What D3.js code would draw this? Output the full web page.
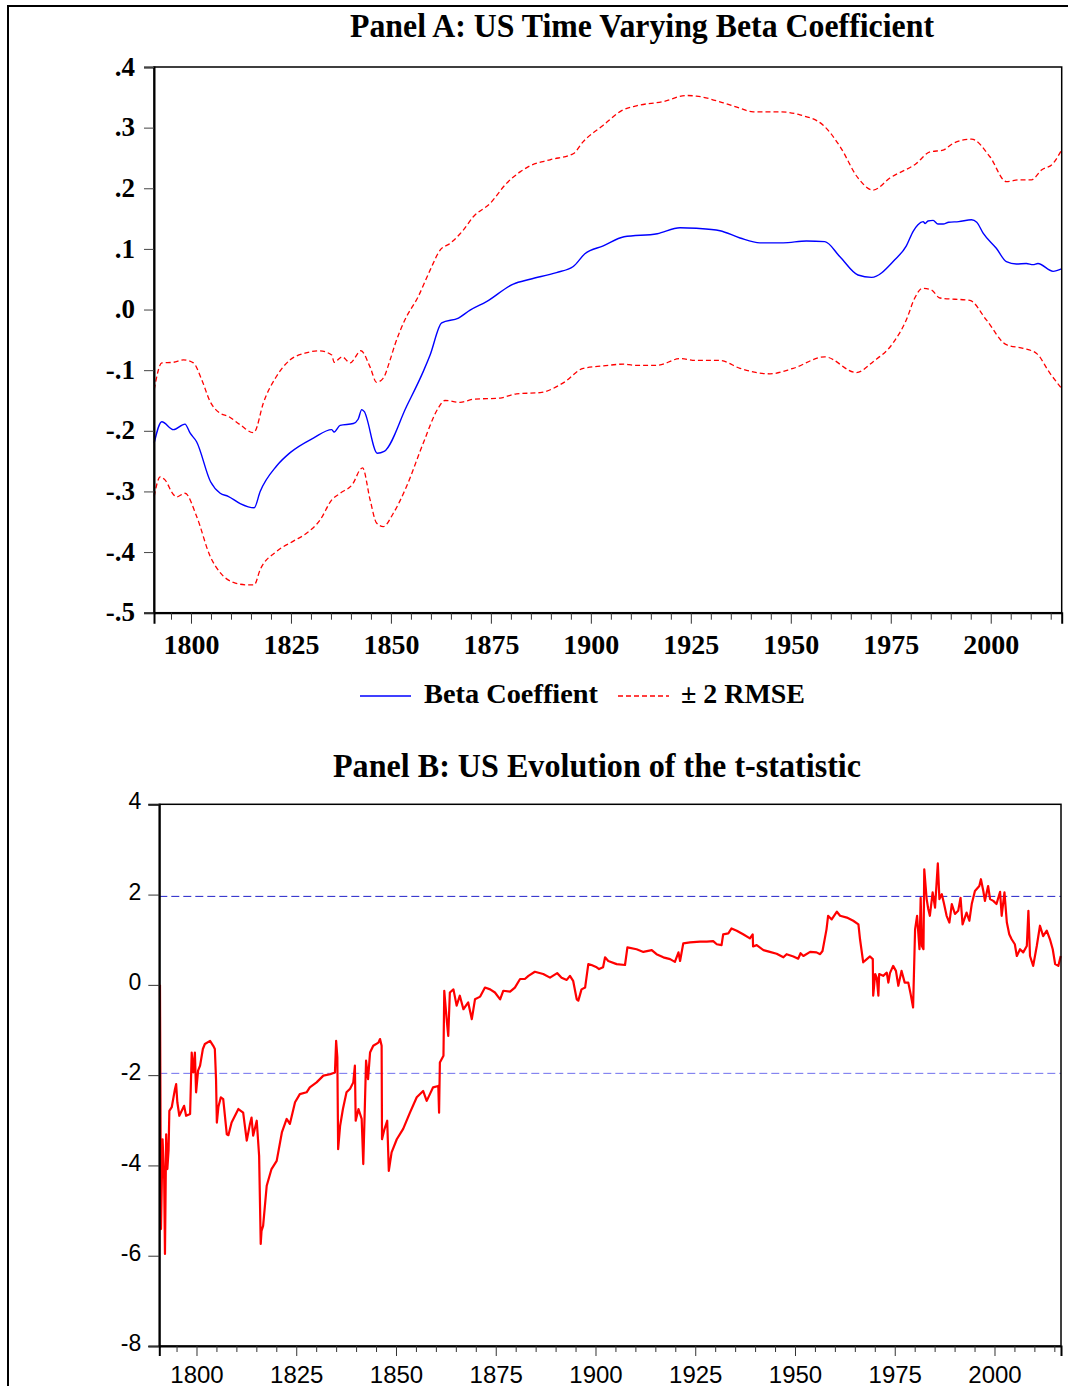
<!DOCTYPE html>
<html><head><meta charset="utf-8">
<script src="https://cdn.jsdelivr.net/npm/d3@7"></script>
<style>body{margin:0;background:#fff}svg{display:block}</style>
</head><body>
<svg id="c" width="1068" height="1386"></svg>
<script>
// ---------- Panel A data ----------
const betaYears = [1790.8,1792.7,1795.6,1798.5,1799.8,1801.4,1804.9,1807.3,1809.3,1812.3,1815.8,1817.3,1821.4,1824.8,1830.6,1835.2,1835.8,1837.3,1840.6,1841.8,1842.7,1843.3,1846.6,1848.3,1853.9,1858.1,1859.8,1862.7,1866.9,1869.8,1873.9,1880.6,1884.8,1891.4,1895.6,1898.5,1903.1,1908.3,1916.6,1922.3,1926.4,1932.3,1937.3,1942.3,1948.1,1953.9,1958.5,1962.3,1966.8,1970.2,1976.0,1978.9,1980.6,1981.8,1983.1,1983.6,1984.3,1985.6,1986.8,1988.1,1989.5,1992.0,1995.2,1996.5,1998.1,2001.4,2003.9,2006.4,2008.9,2010.6,2011.8,2015.6,2017.7];
const betaValues = [-0.220,-0.185,-0.198,-0.189,-0.204,-0.218,-0.284,-0.303,-0.308,-0.320,-0.327,-0.300,-0.258,-0.236,-0.212,-0.198,-0.202,-0.191,-0.188,-0.181,-0.165,-0.168,-0.237,-0.234,-0.160,-0.102,-0.075,-0.022,-0.014,-0.001,0.013,0.042,0.050,0.061,0.071,0.092,0.105,0.120,0.125,0.135,0.134,0.130,0.118,0.110,0.110,0.113,0.112,0.087,0.057,0.053,0.082,0.105,0.129,0.140,0.145,0.142,0.146,0.147,0.141,0.141,0.144,0.145,0.148,0.144,0.126,0.101,0.079,0.075,0.076,0.074,0.076,0.063,0.067];

const upperYears = [1790.8,1792.7,1795.6,1798.1,1800.6,1802.7,1804.8,1807.3,1809.3,1812.3,1815.6,1816.0,1818.1,1821.4,1824.8,1828.5,1832.0,1835.2,1835.8,1837.8,1839.8,1842.5,1844.8,1846.4,1848.1,1849.8,1851.0,1853.5,1856.8,1859.8,1862.3,1864.8,1868.1,1870.6,1874.8,1878.9,1882.3,1884.8,1889.8,1895.6,1898.1,1903.1,1907.7,1911.4,1918.1,1923.9,1926.4,1933.1,1937.3,1940.6,1947.3,1952.3,1958.1,1962.3,1966.8,1970.6,1974.8,1981.4,1984.8,1988.1,1990.6,1995.2,1999.8,2003.9,2007.3,2010.2,2012.7,2015.6,2017.7];
const upperValues = [-0.132,-0.088,-0.087,-0.083,-0.088,-0.116,-0.152,-0.171,-0.176,-0.190,-0.203,-0.201,-0.154,-0.110,-0.083,-0.072,-0.068,-0.075,-0.087,-0.078,-0.088,-0.068,-0.095,-0.120,-0.113,-0.083,-0.058,-0.017,0.021,0.065,0.098,0.109,0.131,0.153,0.175,0.208,0.227,0.237,0.247,0.257,0.277,0.304,0.328,0.336,0.343,0.353,0.352,0.341,0.332,0.326,0.326,0.321,0.304,0.269,0.217,0.197,0.217,0.241,0.260,0.263,0.274,0.281,0.252,0.211,0.214,0.214,0.230,0.241,0.263];

const lowerYears = [1790.8,1792.3,1793.5,1795.6,1796.4,1798.5,1801.4,1804.8,1807.3,1810.6,1813.9,1815.8,1817.3,1821.4,1825.6,1828.9,1832.3,1835.2,1837.3,1840.6,1842.3,1842.9,1844.8,1846.4,1848.1,1850.6,1853.9,1858.1,1861.8,1863.5,1867.3,1870.6,1877.3,1881.4,1887.3,1893.1,1898.1,1903.1,1908.3,1910.8,1916.6,1922.3,1926.4,1932.3,1937.3,1944.8,1950.6,1958.5,1966.4,1970.6,1975.6,1978.9,1981.0,1982.9,1985.2,1987.3,1994.8,1998.9,2003.9,2008.1,2011.4,2014.8,2017.7];
const lowerValues = [-0.308,-0.276,-0.281,-0.305,-0.309,-0.303,-0.341,-0.407,-0.434,-0.450,-0.454,-0.454,-0.429,-0.399,-0.382,-0.369,-0.347,-0.314,-0.303,-0.286,-0.264,-0.261,-0.314,-0.352,-0.358,-0.336,-0.292,-0.220,-0.163,-0.150,-0.153,-0.148,-0.146,-0.139,-0.137,-0.121,-0.097,-0.093,-0.090,-0.092,-0.092,-0.081,-0.084,-0.084,-0.097,-0.106,-0.097,-0.078,-0.104,-0.086,-0.055,-0.017,0.019,0.035,0.032,0.019,0.015,-0.017,-0.058,-0.064,-0.072,-0.105,-0.130];

const yTicksA = [0.4,0.3,0.2,0.1,0.0,-0.1,-0.2,-0.3,-0.4,-0.5];
const yLabelsA = [".4",".3",".2",".1",".0","-.1","-.2","-.3","-.4","-.5"];
const xMajorYears = [1800,1825,1850,1875,1900,1925,1950,1975,2000];
const xMajorLabels = ["1800","1825","1850","1875","1900","1925","1950","1975","2000"];
const xMinorYears = [1795,1805,1810,1815,1820,1830,1835,1840,1845,1855,1860,1865,1870,1880,1885,1890,1895,1905,1910,1915,1920,1930,1935,1940,1945,1955,1960,1965,1970,1980,1985,1990,1995,2005,2010,2015];

// ---------- Panel B data ----------
const tYears = [1790.85,1791.1,1791.5,1791.9,1792.1,1792.4,1792.7,1793.0,1793.2,1793.8,1794.6,1794.9,1795.2,1795.7,1796.9,1797.4,1798.4,1798.8,1799.2,1799.6,1799.9,1800.4,1800.9,1801.6,1802.1,1803.4,1804.2,1804.6,1804.9,1805.1,1805.5,1806.1,1806.7,1807.6,1808.0,1808.8,1810.5,1811.7,1812.6,1813.4,1813.8,1814.2,1815.1,1815.7,1816.1,1816.3,1816.7,1817.6,1818.8,1820.1,1821.4,1822.6,1823.4,1824.7,1825.9,1827.6,1828.4,1830.1,1831.8,1833.5,1834.7,1835.0,1835.3,1835.5,1836.0,1836.7,1837.6,1838.5,1839.3,1839.7,1839.9,1840.6,1841.4,1841.8,1842.2,1842.5,1843.0,1843.5,1844.3,1845.6,1846.0,1846.4,1846.5,1847.1,1847.8,1848.2,1848.9,1850.2,1851.8,1853.5,1855.2,1856.8,1857.7,1858.5,1859.3,1860.6,1860.8,1861.0,1861.9,1862.1,1862.7,1863.1,1863.5,1864.4,1865.2,1866.0,1866.9,1868.1,1869.0,1869.8,1871.1,1872.3,1873.6,1874.8,1876.1,1876.9,1878.6,1879.8,1881.1,1882.3,1883.2,1884.8,1886.9,1888.6,1890.4,1891.5,1892.8,1893.6,1894.4,1895.3,1895.7,1896.5,1897.4,1898.2,1899.0,1900.3,1900.9,1901.9,1902.4,1903.2,1905.3,1907.4,1908.0,1910.3,1912.0,1914.1,1915.3,1917.0,1918.7,1919.9,1920.8,1921.2,1922.0,1923.7,1926.2,1927.9,1929.5,1930.4,1931.6,1932.0,1933.3,1934.1,1935.4,1937.0,1938.7,1939.4,1939.5,1940.4,1942.1,1943.7,1945.4,1947.1,1947.9,1949.6,1950.8,1951.4,1952.1,1953.8,1955.4,1956.3,1956.9,1957.9,1958.3,1959.2,1960.5,1961.3,1963.0,1964.6,1965.9,1966.3,1967.1,1968.0,1968.8,1969.5,1969.6,1970.1,1970.5,1970.9,1971.1,1972.1,1973.0,1973.4,1973.8,1974.6,1975.3,1975.9,1976.7,1977.5,1978.4,1979.0,1979.6,1980.1,1980.6,1981.2,1981.5,1981.8,1982.2,1982.4,1983.0,1983.4,1983.8,1984.5,1985.1,1985.8,1986.2,1986.8,1987.3,1988.0,1988.7,1989.3,1990.1,1990.9,1991.5,1992.0,1993.0,1993.7,1994.3,1995.1,1996.2,1996.6,1997.2,1997.6,1998.4,1998.9,1999.7,2000.5,2001.4,2001.8,2002.5,2003.1,2003.7,2004.3,2005.1,2005.6,2006.4,2007.2,2008.1,2008.5,2008.9,2009.7,2010.6,2011.4,2012.2,2013.1,2013.9,2014.6,2015.2,2016.0,2016.6];
const tValues = [0.00,-5.41,-3.42,-4.31,-5.96,-3.31,-4.08,-3.67,-2.79,-2.71,-2.31,-2.20,-2.60,-2.90,-2.68,-2.90,-2.86,-1.50,-1.94,-1.50,-2.38,-1.90,-1.79,-1.42,-1.31,-1.24,-1.35,-1.42,-2.09,-3.05,-2.70,-2.49,-2.53,-3.31,-3.33,-3.05,-2.75,-2.83,-3.45,-3.08,-2.94,-3.34,-3.01,-3.79,-5.74,-5.45,-5.34,-4.45,-4.08,-3.90,-3.27,-2.97,-3.08,-2.60,-2.42,-2.38,-2.27,-2.16,-2.01,-1.98,-1.94,-1.24,-1.60,-3.64,-3.12,-2.75,-2.38,-2.30,-2.16,-1.79,-3.01,-2.75,-2.97,-3.97,-2.68,-1.68,-2.09,-1.50,-1.35,-1.28,-1.20,-1.35,-3.42,-3.20,-3.01,-4.12,-3.71,-3.42,-3.19,-2.83,-2.49,-2.35,-2.57,-2.42,-2.27,-2.24,-2.83,-1.72,-1.57,-0.13,-0.76,-1.13,-0.17,-0.10,-0.46,-0.24,-0.54,-0.39,-0.76,-0.32,-0.26,-0.06,-0.10,-0.17,-0.32,-0.13,-0.15,-0.06,0.13,0.13,0.20,0.29,0.24,0.16,0.26,0.16,0.11,0.20,0.09,-0.32,-0.35,-0.10,-0.06,0.46,0.44,0.39,0.35,0.39,0.61,0.53,0.46,0.44,0.83,0.79,0.73,0.77,0.68,0.61,0.57,0.51,0.72,0.53,0.92,0.94,0.96,0.96,0.97,0.90,0.88,1.12,1.14,1.25,1.20,1.12,1.03,1.12,0.85,0.88,0.77,0.73,0.69,0.61,0.68,0.63,0.58,0.70,0.64,0.73,0.72,0.68,0.75,1.23,1.53,1.45,1.62,1.53,1.49,1.42,1.34,1.01,0.50,0.57,0.63,0.57,-0.24,0.24,0.16,-0.24,0.24,0.20,0.27,0.05,0.26,0.42,0.31,-0.02,0.31,0.05,0.05,-0.21,-0.50,1.23,1.53,0.79,1.93,0.86,0.79,2.56,1.90,1.68,1.53,2.05,1.71,2.69,1.90,2.01,1.82,1.53,1.38,1.79,1.57,1.64,1.93,1.34,1.60,1.42,1.79,2.08,2.19,2.34,2.08,1.86,2.19,1.90,1.86,1.79,2.06,1.53,2.05,1.38,1.12,1.01,0.90,0.64,0.79,0.72,0.86,1.64,0.64,0.42,0.86,1.31,1.08,1.20,1.01,0.79,0.46,0.42,0.64];
const critValues = [1.96,-1.96];
const yTicksB = [4,2,0,-2,-4,-6,-8];
const yLabelsB = ["4","2","0","-2","-4","-6","-8"];

// ---------- drawing ----------
const serif = "'Liberation Serif','Times New Roman',serif";
const sans = "'Liberation Sans',Arial,sans-serif";
const svg = d3.select("#c");
svg.append("rect").attr("width",1068).attr("height",1386).attr("fill","#fff");
svg.append("path").attr("d","M8,1386V6H1068").attr("fill","none").attr("stroke","#000").attr("stroke-width",2);

// Panel A
const xA = d3.scaleLinear().domain([1790.75,2017.75]).range([154,1061.7]);
const yA = d3.scaleLinear().domain([-0.5,0.4]).range([612.7,67]);
const gA = svg.append("g");

const lineA = d3.line().x(d=>xA(d[0])).y(d=>yA(d[1])).curve(d3.curveMonotoneX);
gA.append("path").datum(d3.zip(upperYears,upperValues)).attr("d",lineA)
  .attr("fill","none").attr("stroke","#ff0000").attr("stroke-width",1.3).attr("stroke-dasharray","5,3");
gA.append("path").datum(d3.zip(lowerYears,lowerValues)).attr("d",lineA)
  .attr("fill","none").attr("stroke","#ff0000").attr("stroke-width",1.3).attr("stroke-dasharray","5,3");
gA.append("path").datum(d3.zip(betaYears,betaValues)).attr("d",lineA)
  .attr("fill","none").attr("stroke","#0000ff").attr("stroke-width",1.4);

gA.append("rect").attr("x",154).attr("y",67).attr("width",907.7).attr("height",545.7)
  .attr("fill","none").attr("stroke","#000").attr("stroke-width",1.5);

const axAL = gA.append("g").attr("transform","translate(154,0)")
  .call(d3.axisLeft(yA).tickValues(yTicksA).tickFormat((d,i)=>yLabelsA[i]).tickSize(10).tickPadding(9));
axAL.select(".domain").attr("stroke","#000").attr("stroke-width",2);
axAL.selectAll(".tick line").attr("stroke","#444");
axAL.selectAll("text").attr("font-family",serif).attr("font-weight","bold").attr("font-size",27).attr("fill","#000").attr("dy","0.3em");

const axAB = gA.append("g").attr("transform","translate(0,612.7)")
  .call(d3.axisBottom(xA).tickValues(xMajorYears).tickFormat((d,i)=>xMajorLabels[i]).tickSize(11));
axAB.select(".domain").attr("stroke","#000").attr("stroke-width",2);
axAB.selectAll(".tick line").attr("stroke","#333");
axAB.selectAll("text").attr("font-family",serif).attr("font-weight","bold").attr("font-size",28)
  .attr("fill","#000").attr("dy",null).attr("y",41.5);
const axABm = gA.append("g").attr("transform","translate(0,612.7)")
  .call(d3.axisBottom(xA).tickValues(xMinorYears).tickFormat("").tickSize(7));
axABm.select(".domain").remove();
axABm.selectAll(".tick line").attr("stroke","#333");

// Panel A title & legend
svg.append("text").attr("x",350).attr("y",37).attr("textLength",584).attr("lengthAdjust","spacingAndGlyphs")
  .attr("font-family",serif).attr("font-weight","bold").attr("font-size",33).text("Panel A: US Time Varying Beta Coefficient");
svg.append("line").attr("x1",360).attr("x2",411).attr("y1",696).attr("y2",696).attr("stroke","#0000ff").attr("stroke-width",1.4);
svg.append("text").attr("x",424).attr("y",703).attr("textLength",174).attr("lengthAdjust","spacingAndGlyphs")
  .attr("font-family",serif).attr("font-weight","bold").attr("font-size",27).text("Beta Coeffient");
svg.append("line").attr("x1",618).attr("x2",669).attr("y1",696).attr("y2",696).attr("stroke","#ff0000").attr("stroke-width",1.3).attr("stroke-dasharray","5,3");
svg.append("text").attr("x",681).attr("y",703).attr("textLength",124).attr("lengthAdjust","spacingAndGlyphs")
  .attr("font-family",serif).attr("font-weight","bold").attr("font-size",27).text("± 2 RMSE");

// Panel B
const xB = d3.scaleLinear().domain([1790.68,2016.67]).range([159.3,1061]);
const yB = d3.scaleLinear().domain([-8,4]).range([1346,804.3]);
const gB = svg.append("g");

svg.append("text").attr("x",333).attr("y",777).attr("textLength",528).attr("lengthAdjust","spacingAndGlyphs")
  .attr("font-family",serif).attr("font-weight","bold").attr("font-size",33).text("Panel B: US Evolution of the t-statistic");

const critColors = ["#2020c8","#7070ee"];
critValues.forEach((v,i)=>{
  gB.append("line").attr("x1",xB.range()[0]).attr("x2",xB.range()[1]).attr("y1",yB(v)).attr("y2",yB(v))
    .attr("stroke",critColors[i]).attr("stroke-width",1).attr("stroke-dasharray","8,4");
});

const lineB = d3.line().x(d=>xB(d[0])).y(d=>yB(d[1]));
gB.append("path").datum(d3.zip(tYears,tValues)).attr("d",lineB)
  .attr("fill","none").attr("stroke","#ff0000").attr("stroke-width",2.2).attr("stroke-linejoin","round");

gB.append("rect").attr("x",159.3).attr("y",804.3).attr("width",901.7).attr("height",541.7)
  .attr("fill","none").attr("stroke","#000").attr("stroke-width",1.5);

const axBL = gB.append("g").attr("transform","translate(159.3,0)")
  .call(d3.axisLeft(yB).tickValues(yTicksB).tickFormat((d,i)=>yLabelsB[i]).tickSize(11).tickPadding(7));
axBL.select(".domain").attr("stroke","#000").attr("stroke-width",2);
axBL.selectAll(".tick line").attr("stroke","#333");
axBL.selectAll("text").attr("font-family",sans).attr("font-size",23).attr("fill","#000").attr("dy","0.2em");

const axBB = gB.append("g").attr("transform","translate(0,1346)")
  .call(d3.axisBottom(xB).tickValues(xMajorYears).tickFormat((d,i)=>xMajorLabels[i]).tickSize(10));
axBB.select(".domain").attr("stroke","#000").attr("stroke-width",2);
axBB.selectAll(".tick line").attr("stroke","#333");
axBB.selectAll("text").attr("font-family",sans).attr("font-size",24).attr("fill","#000").attr("dy",null).attr("y",36.5);
const axBBm = gB.append("g").attr("transform","translate(0,1346)")
  .call(d3.axisBottom(xB).tickValues(xMinorYears).tickFormat("").tickSize(6));
axBBm.select(".domain").remove();
axBBm.selectAll(".tick line").attr("stroke","#333");
</script>
</body></html>
